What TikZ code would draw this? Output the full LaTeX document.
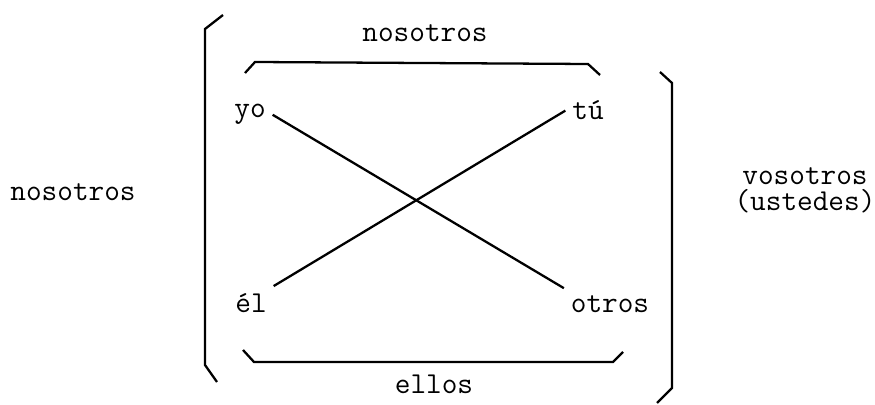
\documentclass[tikz,border=0pt]{standalone}
\usepackage{fontspec}
\begin{document}
\begin{tikzpicture}[x=0.02cm, y=-0.02cm, line width=1.3pt,
    word/.style={anchor=base, font=\ttfamily\fontsize{17.3}{14.7}\selectfont}]
    \useasboundingbox (0,0) rectangle (875,405);
    % outer brackets
    \draw (223,15) -- (205,29) -- (205,365) -- (217,382);
    \draw (660,72) -- (672,83) -- (672,388) -- (657,403);
    % braces
    \draw (245,73) -- (255,62) -- (588,64) -- (600,75);
    \draw (243,350) -- (254,362) -- (613,362) -- (623,352);
    \node[word] (yo) at (250,118) {yo};
    \node[word] (tu) at (588,120) {tú};
    \node[word] (el) at (251,312) {él};
    \node[word] (otros) at (610,312) {otros};
    \node[word] (nosTop) at (425,42) {nosotros};
    \node[word] (ellos) at (434,393) {ellos};
    \node[word] (nosLeft) at (73,200) {nosotros};
    \node[word, anchor=center, align=center] (vos) at (805,190) {vosotros\\(ustedes)};
    \draw (yo.east) -- (otros.north west);
    \draw (el.north east) -- (tu.west);
\end{tikzpicture}
\end{document}
